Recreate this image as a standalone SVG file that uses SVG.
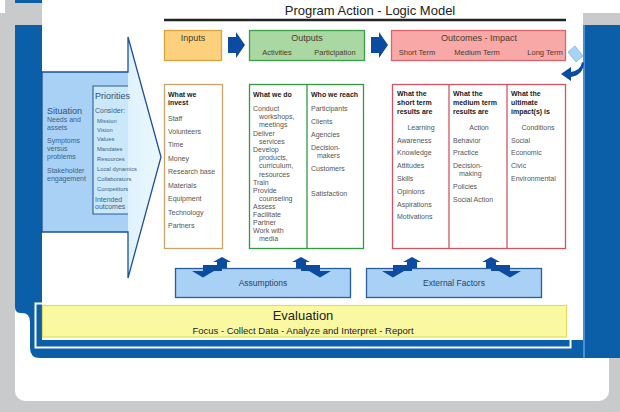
<svg xmlns="http://www.w3.org/2000/svg" width="620" height="412" viewBox="0 0 620 412">
<defs>
<style>
text{font-family:"Liberation Sans",Arial,sans-serif;}
.hd{font-size:9px;fill:#4a3a2a;text-anchor:middle;}
.sh{font-size:7.5px;fill:#4a3a2a;text-anchor:middle;}
.it{font-size:7px;fill:#555;}
.b{font-size:7px;fill:#222;font-weight:bold;}
.ctr{text-anchor:middle;}
.dk{fill:#0b4ca2;}
.col{fill:#fff;stroke-width:1.3;}
.sit{font-size:9px;fill:#2f4f78;}
.si{font-size:7px;fill:#3d5f86;}
.pi{font-size:5.8px;fill:#3d5f86;}
.bx{fill:#a9d1f5;stroke:#2a5d9e;stroke-width:1.3;}
</style>
<linearGradient id="head" x1="0" y1="0" x2="1" y2="0">
<stop offset="0" stop-color="#c6e5fb"/>
<stop offset="1" stop-color="#eaf7fe"/>
</linearGradient>
<g id="pair">
<polygon class="dk" points="-9,-6 0,-11 9,-6"/>
<rect class="dk" x="-5" y="-6.5" width="10" height="6.5"/>
<rect class="dk" x="-19" y="-3" width="19" height="6"/>
<polygon class="dk" points="-30,3 -8,3 -19,9.5"/>
</g>
<polygon id="chev" points="0,5 8,5 8,0 17,13 8,26 8,21 0,21"/>
</defs>

<!-- background -->
<rect x="0" y="0" width="620" height="412" fill="#c9cacc"/>
<rect x="0" y="0" width="5" height="13" fill="#fff"/>
<rect x="583" y="0" width="37" height="13" fill="#fff"/>
<rect x="15" y="0" width="27" height="3" fill="#0b5fa8"/>
<rect x="15" y="25" width="594" height="376" rx="10" fill="#fff"/>
<path d="M15,25 H620 V358 H40 Q30,358 30,348 V322 Q30,313 22,313 H21 Q15,313 15,307 Z" fill="#0b5fa8"/>
<line x1="584" y1="25" x2="584" y2="358" stroke="#4a8fd0" stroke-width="2"/>
<rect x="42" y="0" width="541" height="340" fill="#fff"/>
<rect x="35.5" y="303.5" width="535" height="44" fill="none" stroke="#fff" stroke-width="2"/>

<!-- title -->
<g id="title">
<text x="370" y="15" font-size="13" fill="#222" class="ctr">Program Action - Logic Model</text>
<line x1="164" y1="20" x2="566" y2="20" stroke="#222" stroke-width="2.5"/>
</g>

<!-- header boxes -->
<g id="inputs-header">
<rect x="164.5" y="30.5" width="57" height="30" fill="#fdd07e" stroke="#d9a43e" stroke-width="1.3"/>
<text class="hd" x="193" y="41">Inputs</text>
</g>
<g id="outputs-header">
<rect x="249.5" y="30.5" width="115" height="30" fill="#a9d8a3" stroke="#3a9f48" stroke-width="1.3"/>
<text class="hd" x="307" y="41" fill="#2f4a2f">Outputs</text>
<text class="sh" x="277" y="55">Activities</text>
<text class="sh" x="335" y="55">Participation</text>
</g>
<g id="outcomes-header">
<rect x="391.5" y="30.5" width="174" height="30" fill="#f9a8a8" stroke="#d9646a" stroke-width="1.3"/>
<text class="hd" x="479" y="41" fill="#6a2a2a">Outcomes - Impact</text>
<text class="sh" x="417" y="55">Short Term</text>
<text class="sh" x="477" y="55">Medium Term</text>
<text class="sh" x="545" y="55">Long Term</text>
</g>

<!-- situation / priorities arrow -->
<g id="situation">
<polygon points="42,72 128,72 128,37 161,157 128,278 128,232 42,232" fill="url(#head)"/>
<rect x="42" y="72" width="86" height="160" fill="#a9d1f5"/>
<rect x="93" y="86" width="35" height="128" fill="#cbe8fb"/>
<path d="M128,86 H93 V214 H128" fill="none" stroke="#2a5d9e" stroke-width="1.1"/>
<polygon points="42,72 128,72 128,37 161,157 128,278 128,232 42,232" fill="none" stroke="#1d4f9c" stroke-width="1.3"/>
<text class="sit" x="47" y="114">Situation</text>
<text class="si" x="47" y="122">Needs and</text>
<text class="si" x="47" y="130">assets</text>
<text class="si" x="47" y="143">Symptoms</text>
<text class="si" x="47" y="151">versus</text>
<text class="si" x="47" y="159">problems</text>
<text class="si" x="47" y="173">Stakeholder</text>
<text class="si" x="47" y="181">engagement</text>
<text class="sit" x="95" y="99">Priorities</text>
<text class="si" x="95" y="112.5">Consider:</text>
<text class="pi" x="97" y="122.5">Mission</text>
<text class="pi" x="97" y="132">Vision</text>
<text class="pi" x="97" y="141">Values</text>
<text class="pi" x="97" y="151">Mandates</text>
<text class="pi" x="97" y="161">Resources</text>
<text class="pi" x="97" y="171">Local dynamics</text>
<text class="pi" x="97" y="181">Collaborators</text>
<text class="pi" x="97" y="191">Competitors</text>
<text class="si" x="95" y="202">Intended</text>
<text class="si" x="95" y="209">outcomes</text>
</g>

<!-- inputs column -->
<g id="inputs">
<rect class="col" x="164.5" y="84.5" width="58" height="164" stroke="#c9a36a"/>
<text class="b" x="168" y="97">What we</text>
<text class="b" x="168" y="105">invest</text>
<text class="it" x="168" y="121">Staff</text>
<text class="it" x="168" y="134">Volunteers</text>
<text class="it" x="168" y="147">Time</text>
<text class="it" x="168" y="161">Money</text>
<text class="it" x="168" y="174">Research base</text>
<text class="it" x="168" y="188">Materials</text>
<text class="it" x="168" y="201">Equipment</text>
<text class="it" x="168" y="215">Technology</text>
<text class="it" x="168" y="228">Partners</text>
</g>

<!-- outputs columns -->
<g id="outputs">
<rect class="col" x="249.5" y="84.5" width="114" height="164" stroke="#2f9a40"/>
<line x1="307" y1="84.5" x2="307" y2="248.5" stroke="#2f9a40" stroke-width="1.3"/>
<text class="b" x="253" y="97">What we do</text>
<text class="it" x="253" y="110.5">Conduct</text>
<text class="it" x="259" y="119">workshops,</text>
<text class="it" x="259" y="127">meetings</text>
<text class="it" x="253" y="135.5">Deliver</text>
<text class="it" x="259" y="143.5">services</text>
<text class="it" x="253" y="152">Develop</text>
<text class="it" x="259" y="160">products,</text>
<text class="it" x="259" y="168">curriculum,</text>
<text class="it" x="259" y="176.5">resources</text>
<text class="it" x="253" y="184.5">Train</text>
<text class="it" x="253" y="192.5">Provide</text>
<text class="it" x="259" y="200.5">counseling</text>
<text class="it" x="253" y="208.5">Assess</text>
<text class="it" x="253" y="216.5">Facilitate</text>
<text class="it" x="253" y="224.5">Partner</text>
<text class="it" x="253" y="232.5">Work with</text>
<text class="it" x="259" y="240.5">media</text>
<text class="b" x="311" y="97">Who we reach</text>
<text class="it" x="311" y="111">Participants</text>
<text class="it" x="311" y="124">Clients</text>
<text class="it" x="311" y="137">Agencies</text>
<text class="it" x="311" y="150">Decision-</text>
<text class="it" x="317" y="158">makers</text>
<text class="it" x="311" y="171">Customers</text>
<text class="it" x="311" y="196">Satisfaction</text>
</g>

<!-- outcomes columns -->
<g id="outcomes">
<rect class="col" x="392.5" y="84.5" width="173" height="164" stroke="#d25462"/>
<line x1="449" y1="84.5" x2="449" y2="248.5" stroke="#d25462" stroke-width="1.3"/>
<line x1="507" y1="84.5" x2="507" y2="248.5" stroke="#d25462" stroke-width="1.3"/>
<text class="b" x="397" y="96">What the</text>
<text class="b" x="397" y="105">short term</text>
<text class="b" x="397" y="114">results are</text>
<text class="it ctr" x="421" y="129.5">Learning</text>
<text class="it" x="397" y="142.5">Awareness</text>
<text class="it" x="397" y="155">Knowledge</text>
<text class="it" x="397" y="168">Attitudes</text>
<text class="it" x="397" y="181">Skills</text>
<text class="it" x="397" y="193.5">Opinions</text>
<text class="it" x="397" y="206.5">Aspirations</text>
<text class="it" x="397" y="219">Motivations</text>
<text class="b" x="453" y="96">What the</text>
<text class="b" x="453" y="105">medium term</text>
<text class="b" x="453" y="114">results are</text>
<text class="it ctr" x="479" y="129.5">Action</text>
<text class="it" x="453" y="142.5">Behavior</text>
<text class="it" x="453" y="155">Practice</text>
<text class="it" x="453" y="168">Decision-</text>
<text class="it" x="459" y="176">making</text>
<text class="it" x="453" y="189">Policies</text>
<text class="it" x="453" y="202">Social Action</text>
<text class="b" x="511" y="96">What the</text>
<text class="b" x="511" y="105">ultimate</text>
<text class="b" x="511" y="114">impact(s) is</text>
<text class="it ctr" x="538" y="129.5">Conditions</text>
<text class="it" x="511" y="142.5">Social</text>
<text class="it" x="511" y="155">Economic</text>
<text class="it" x="511" y="168">Civic</text>
<text class="it" x="511" y="181">Environmental</text>
</g>

<!-- assumptions / external factors -->
<g id="assumptions">
<rect class="bx" x="175.5" y="268.5" width="175" height="29"/>
<text x="263" y="286" font-size="8.5" fill="#2f3f55" class="ctr">Assumptions</text>
</g>
<g id="external-factors">
<rect class="bx" x="366.5" y="268.5" width="175" height="29"/>
<text x="454" y="286" font-size="8.5" fill="#2f3f55" class="ctr">External Factors</text>
</g>

<!-- evaluation -->
<g id="evaluation">
<rect x="42.5" y="305.5" width="524" height="31.5" fill="#fbf8a2" stroke="#e3dc5e" stroke-width="1.2"/>
<text x="303" y="320" font-size="13" fill="#222" class="ctr">Evaluation</text>
<text x="303" y="333.5" font-size="9.5" fill="#222" class="ctr">Focus - Collect Data - Analyze and Interpret - Report</text>
</g>

<!-- connectors -->
<g id="connectors">
<use href="#chev" class="dk" x="228" y="32"/>
<use href="#chev" class="dk" x="371" y="32"/>
<polygon points="568,52 575,46 583,56 576,62" fill="#a8d2f5" stroke="#6aa4dc" stroke-width="0.6"/>
<path d="M582,62 Q581,70 571,72 L571,67 L561,74 L571,81 L571,77 Q583,75 584,63 Z" class="dk"/>
<use href="#pair" transform="translate(222,268)"/>
<use href="#pair" transform="translate(301,268) scale(-1,1)"/>
<use href="#pair" transform="translate(412,268)"/>
<use href="#pair" transform="translate(491,268) scale(-1,1)"/>
</g>
</svg>
